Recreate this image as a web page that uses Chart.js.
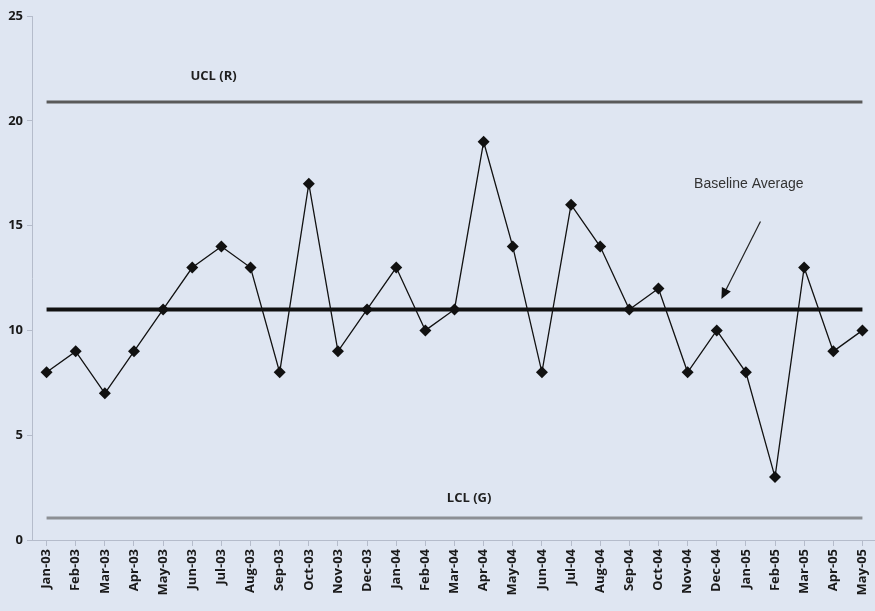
<!DOCTYPE html>
<html lang="en">
<head>
    <meta charset="UTF-8">
    <title>Control Chart</title>
    <script src="https://cdn.jsdelivr.net/npm/chart.js"></script>
    <style>
        body {
            margin: 0;
            background-color: #dfe6f2;
            overflow: hidden;
        }
        .chart-container {
            width: 875px;
            height: 611px;
            overflow: hidden;
        }
    </style>
</head>
<body>
    <div class="chart-container">
        <!-- a bit wider than the page so the last category reaches the right edge -->
        <canvas id="controlChart" width="883" height="611"></canvas>
    </div>

    <script>
        const months = ['Jan-03', 'Feb-03', 'Mar-03', 'Apr-03', 'May-03', 'Jun-03', 'Jul-03', 'Aug-03', 'Sep-03',
            'Oct-03', 'Nov-03', 'Dec-03', 'Jan-04', 'Feb-04', 'Mar-04', 'Apr-04', 'May-04', 'Jun-04', 'Jul-04',
            'Aug-04', 'Sep-04', 'Oct-04', 'Nov-04', 'Dec-04', 'Jan-05', 'Feb-05', 'Mar-05', 'Apr-05', 'May-05'];
        const counts = [8, 9, 7, 9, 11, 13, 14, 13, 8, 17, 9, 11, 13, 10, 11, 19, 14, 8, 16, 14, 11, 12, 8, 10, 8, 3, 13, 9, 10];
        const ucl = 20.9;
        const baseline = 11;
        const lcl = 1.05;
        const yTicks = [0, 5, 10, 15, 20, 25];

        const flat = v => months.map(() => v);

        // labels and the arrow drawn on top, placed with the chart's scales
        const notes = {
            id: 'notes',
            afterDatasetsDraw(chart) {
                const { ctx, scales: { x, y } } = chart;
                ctx.save();
                ctx.fillStyle = '#1f1f1f';
                ctx.textAlign = 'center';
                ctx.textBaseline = 'middle';
                ctx.font = 'bold 13px "Open Sans"';
                ctx.fillText('UCL (R)', x.getPixelForValue(5.73), y.getPixelForValue(22.1));
                ctx.fillText('LCL (G)', x.getPixelForValue(14.5), y.getPixelForValue(2.0));
                ctx.fillStyle = '#333';
                ctx.font = '14px "Liberation Sans"';
                ctx.fillText('Baseline Average', x.getPixelForValue(24.1), y.getPixelForValue(17.0));

                const x1 = x.getPixelForValue(24.5), y1 = y.getPixelForValue(15.2);
                const x2 = x.getPixelForValue(23.16), y2 = y.getPixelForValue(11.5);
                const a = Math.atan2(y2 - y1, x2 - x1);
                ctx.strokeStyle = '#222';
                ctx.lineWidth = 1.2;
                ctx.beginPath();
                ctx.moveTo(x1, y1);
                ctx.lineTo(x2 - 6 * Math.cos(a), y2 - 6 * Math.sin(a));
                ctx.stroke();
                ctx.fillStyle = '#111';
                ctx.beginPath();
                ctx.moveTo(x2, y2);
                ctx.lineTo(x2 - 11 * Math.cos(a) + 5 * Math.sin(a), y2 - 11 * Math.sin(a) - 5 * Math.cos(a));
                ctx.lineTo(x2 - 11 * Math.cos(a) - 5 * Math.sin(a), y2 - 11 * Math.sin(a) + 5 * Math.cos(a));
                ctx.closePath();
                ctx.fill();
                ctx.restore();
            }
        };

        const ctx = document.getElementById('controlChart').getContext('2d');
        new Chart(ctx, {
            type: 'line',
            data: {
                labels: months,
                datasets: [{
                    label: 'UCL',
                    data: flat(ucl),
                    borderColor: '#5a5a5a',
                    borderWidth: 3,
                    pointRadius: 0
                }, {
                    label: 'Baseline',
                    data: flat(baseline),
                    borderColor: '#111',
                    borderWidth: 4,
                    pointRadius: 0
                }, {
                    label: 'LCL',
                    data: flat(lcl),
                    borderColor: '#8c8f94',
                    borderWidth: 3,
                    pointRadius: 0
                }, {
                    label: 'Count',
                    data: counts,
                    borderColor: '#111',
                    borderWidth: 1.3,
                    backgroundColor: '#111',
                    pointStyle: 'rectRot',
                    pointRadius: 6,
                    pointBorderWidth: 0,
                    tension: 0
                }]
            },
            options: {
                responsive: false,
                animation: false,
                layout: { padding: { top: 16, right: 0, left: 0, bottom: 0 } },
                plugins: {
                    legend: { display: false },
                    tooltip: { enabled: false }
                },
                scales: {
                    x: {
                        offset: true,
                        grid: { drawOnChartArea: false, tickLength: 6, color: '#b5bccb' },
                        border: { color: '#b5bccb' },
                        ticks: {
                            autoSkip: false,
                            minRotation: 90,
                            maxRotation: 90,
                            color: '#1a1a1a',
                            font: { family: 'Open Sans', weight: 'bold', size: 13 }
                        },
                        afterFit(scale) { scale.height = 71; }
                    },
                    y: {
                        min: 0,
                        max: 25,
                        afterBuildTicks(scale) { scale.ticks = yTicks.map(v => ({ value: v })); },
                        grid: { drawOnChartArea: false, tickLength: 5, color: '#b5bccb' },
                        border: { color: '#b5bccb' },
                        ticks: {
                            padding: 4,
                            color: '#1a1a1a',
                            font: { family: 'Open Sans', weight: 'bold', size: 13 }
                        },
                        afterFit(scale) { scale.width = 32; }
                    }
                }
            },
            plugins: [notes]
        });
    </script>
</body>
</html>
